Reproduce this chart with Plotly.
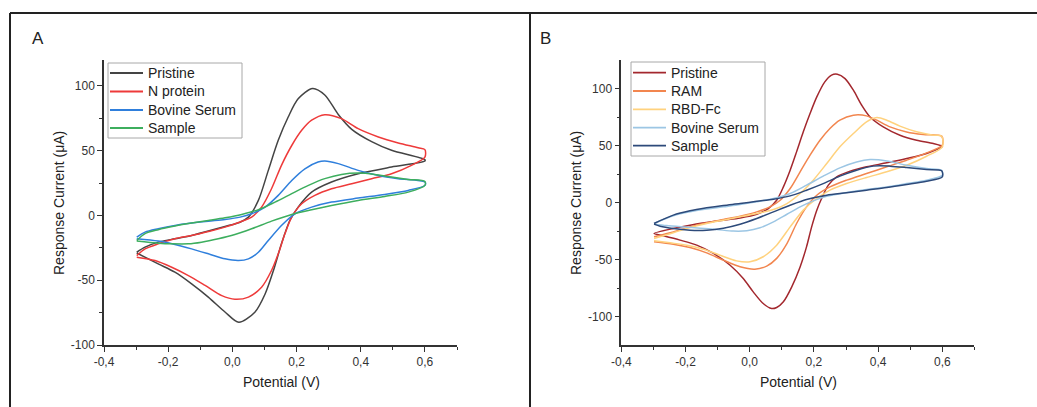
import plotly.graph_objects as go

# ---------------- Panel A data (Potential V, Current uA) ----------------
a_pristine_fwd_v = [-0.298, -0.272, -0.231, -0.179, -0.127, -0.075, -0.023, 0.024, 0.050, 0.081, 0.112, 0.143, 0.174, 0.205, 0.250, 0.288, 0.330, 0.372, 0.434, 0.496, 0.600]
a_pristine_fwd_i = [-28.4, -24.5, -20.6, -18.0, -15.5, -12.0, -8.5, -5.2, -1.3, 11.6, 34.8, 58.0, 76.0, 90.0, 98.0, 93.0, 78.0, 66.5, 57.0, 50.3, 43.0]
a_pristine_rev_v = [0.600, 0.496, 0.392, 0.309, 0.247, 0.205, 0.179, 0.153, 0.128, 0.102, 0.070, 0.020, -0.023, -0.075, -0.127, -0.179, -0.231, -0.298]
a_pristine_rev_i = [42.0, 37.4, 32.2, 25.8, 18.0, 6.4, -3.9, -21.9, -42.5, -60.6, -74.7, -82.5, -74.5, -63.0, -52.8, -43.8, -37.4, -29.0]

a_nprot_fwd_v = [-0.298, -0.272, -0.231, -0.179, -0.127, -0.075, -0.023, 0.024, 0.060, 0.091, 0.122, 0.153, 0.185, 0.216, 0.247, 0.288, 0.340, 0.392, 0.455, 0.517, 0.579, 0.600]
a_nprot_fwd_i = [-31.0, -25.8, -21.9, -18.0, -15.5, -12.4, -9.0, -5.0, -1.3, 6.4, 20.6, 38.7, 54.0, 65.7, 73.5, 77.8, 74.7, 67.0, 60.6, 56.0, 52.3, 50.8]
a_nprot_rev_v = [0.600, 0.558, 0.496, 0.434, 0.372, 0.309, 0.257, 0.216, 0.185, 0.164, 0.143, 0.122, 0.091, 0.050, 0.008, -0.033, -0.085, -0.137, -0.189, -0.241, -0.298]
a_nprot_rev_i = [45.0, 38.7, 32.2, 28.4, 24.5, 20.6, 15.5, 9.0, -1.3, -14.0, -29.6, -42.5, -55.4, -63.0, -64.7, -61.9, -54.0, -46.4, -40.0, -34.8, -32.2]

a_bovine_fwd_v = [-0.298, -0.272, -0.231, -0.179, -0.127, -0.075, -0.023, 0.024, 0.060, 0.102, 0.143, 0.185, 0.226, 0.267, 0.288, 0.330, 0.392, 0.455, 0.517, 0.600]
a_bovine_fwd_i = [-16.8, -12.9, -10.3, -7.7, -5.9, -4.4, -3.1, -1.3, 1.3, 6.4, 15.5, 27.0, 36.0, 41.2, 42.0, 40.0, 34.8, 30.9, 28.4, 25.8]
a_bovine_rev_v = [0.600, 0.548, 0.475, 0.392, 0.309, 0.247, 0.195, 0.153, 0.112, 0.081, 0.050, 0.019, -0.023, -0.075, -0.127, -0.179, -0.231, -0.298]
a_bovine_rev_i = [23.2, 19.3, 16.2, 13.4, 10.3, 6.4, 1.3, -7.7, -19.3, -28.4, -33.5, -34.8, -33.5, -29.6, -25.8, -22.4, -19.8, -18.0]

a_sample_fwd_v = [-0.298, -0.272, -0.231, -0.179, -0.127, -0.075, -0.023, 0.029, 0.081, 0.133, 0.185, 0.237, 0.288, 0.340, 0.392, 0.444, 0.496, 0.548, 0.600]
a_sample_fwd_i = [-19.3, -14.0, -11.0, -8.2, -5.9, -3.9, -1.8, 0.8, 4.4, 10.3, 16.8, 23.2, 28.4, 31.7, 32.7, 31.7, 29.6, 27.8, 26.3]
a_sample_rev_v = [0.600, 0.548, 0.475, 0.392, 0.309, 0.247, 0.185, 0.122, 0.060, 0.008, -0.044, -0.096, -0.137, -0.189, -0.231, -0.298]
a_sample_rev_i = [23.2, 18.0, 14.7, 11.6, 7.7, 4.4, 0.8, -4.4, -10.3, -14.7, -18.0, -20.6, -21.9, -21.9, -21.4, -19.8]

# ---------------- Panel B data ----------------
b_pristine_fwd_v = [-0.298, -0.238, -0.186, -0.134, -0.082, -0.030, 0.022, 0.058, 0.084, 0.105, 0.126, 0.146, 0.167, 0.188, 0.209, 0.234, 0.255, 0.273, 0.297, 0.323, 0.349, 0.375, 0.416, 0.468, 0.520, 0.572, 0.600]
b_pristine_fwd_i = [-27.2, -22.8, -19.9, -17.6, -15.5, -13.5, -10.3, -5.3, 2.0, 13.7, 28.3, 44.4, 62.0, 78.0, 92.6, 105.8, 111.7, 112.5, 108.7, 98.5, 85.3, 75.0, 66.3, 59.0, 54.6, 51.7, 49.4]
b_pristine_rev_v = [0.600, 0.551, 0.489, 0.427, 0.364, 0.313, 0.271, 0.245, 0.224, 0.209, 0.193, 0.177, 0.157, 0.131, 0.105, 0.084, 0.068, 0.042, 0.011, -0.020, -0.061, -0.113, -0.165, -0.217, -0.269, -0.298]
b_pristine_rev_i = [49.0, 43.0, 38.6, 34.8, 31.3, 27.5, 22.5, 15.2, 3.5, -6.8, -21.4, -38.9, -56.5, -74.0, -87.1, -92.1, -93.0, -88.6, -78.4, -66.7, -55.0, -44.7, -37.4, -33.0, -29.2, -27.2]

b_ram_fwd_v = [-0.298, -0.238, -0.186, -0.134, -0.082, -0.030, 0.022, 0.063, 0.095, 0.126, 0.157, 0.188, 0.219, 0.250, 0.281, 0.323, 0.364, 0.396, 0.437, 0.489, 0.541, 0.598]
b_ram_fwd_i = [-30.0, -25.8, -21.4, -17.8, -14.9, -12.0, -8.2, -3.8, 2.0, 12.3, 26.9, 41.5, 54.6, 64.9, 72.2, 76.6, 76.0, 72.2, 66.3, 61.9, 59.6, 58.2]
b_ram_rev_v = [0.600, 0.551, 0.489, 0.427, 0.364, 0.302, 0.250, 0.209, 0.177, 0.146, 0.116, 0.084, 0.053, 0.016, -0.030, -0.082, -0.134, -0.186, -0.238, -0.298]
b_ram_rev_i = [50.3, 43.5, 37.1, 31.3, 25.4, 19.6, 13.7, 6.4, -3.8, -18.4, -36.0, -49.0, -55.8, -58.5, -56.4, -50.6, -44.2, -39.5, -36.6, -34.5]

b_rbd_fwd_v = [-0.298, -0.238, -0.186, -0.134, -0.082, -0.030, 0.022, 0.074, 0.116, 0.157, 0.198, 0.240, 0.281, 0.323, 0.364, 0.396, 0.427, 0.468, 0.520, 0.572, 0.598]
b_rbd_fwd_i = [-31.6, -26.6, -21.9, -18.4, -15.5, -12.6, -9.6, -6.2, -0.9, 7.9, 19.6, 34.2, 48.8, 60.5, 70.7, 74.5, 72.2, 67.0, 62.0, 59.0, 58.2]
b_rbd_rev_v = [0.600, 0.551, 0.489, 0.427, 0.364, 0.302, 0.250, 0.209, 0.167, 0.126, 0.084, 0.042, 0.001, -0.041, -0.093, -0.144, -0.196, -0.248, -0.298]
b_rbd_rev_i = [48.8, 40.6, 32.7, 26.9, 21.9, 16.6, 10.8, 3.5, -6.7, -21.4, -37.4, -47.6, -52.0, -51.2, -46.2, -41.0, -37.4, -35.4, -33.6]

b_bovine_fwd_v = [-0.298, -0.238, -0.186, -0.134, -0.082, -0.030, 0.022, 0.074, 0.126, 0.177, 0.229, 0.281, 0.333, 0.375, 0.427, 0.489, 0.551, 0.598]
b_bovine_fwd_i = [-18.4, -11.7, -8.2, -5.8, -3.8, -1.8, 0.6, 3.5, 7.9, 15.2, 23.1, 30.4, 35.6, 37.7, 36.5, 32.7, 29.8, 28.3]
b_bovine_rev_v = [0.600, 0.551, 0.489, 0.427, 0.364, 0.302, 0.240, 0.198, 0.157, 0.116, 0.074, 0.032, -0.009, -0.051, -0.102, -0.154, -0.206, -0.259, -0.298]
b_bovine_rev_i = [23.9, 19.6, 16.6, 13.7, 11.4, 8.7, 5.5, 1.4, -3.8, -10.3, -17.0, -22.2, -24.8, -25.1, -23.7, -22.5, -21.4, -20.2, -19.0]

b_sample_fwd_v = [-0.298, -0.238, -0.186, -0.134, -0.082, -0.030, 0.022, 0.074, 0.126, 0.177, 0.229, 0.281, 0.333, 0.385, 0.437, 0.489, 0.551, 0.598]
b_sample_fwd_i = [-18.4, -11.1, -7.3, -4.7, -2.6, -0.9, 1.1, 2.9, 5.8, 10.8, 16.6, 23.1, 28.3, 31.9, 31.9, 30.7, 28.9, 27.8]
b_sample_rev_v = [0.600, 0.551, 0.489, 0.427, 0.364, 0.302, 0.240, 0.177, 0.126, 0.074, 0.022, -0.030, -0.082, -0.134, -0.186, -0.238, -0.279, -0.298]
b_sample_rev_i = [22.5, 18.7, 15.8, 13.1, 10.8, 8.5, 6.4, 2.6, -2.4, -8.2, -14.0, -19.0, -22.5, -24.3, -24.3, -22.8, -20.8, -19.0]

# ---------------- Labels / ticks ----------------
a_names = ["Pristine", "N protein", "Bovine Serum", "Sample"]
b_names = ["Pristine", "RAM", "RBD-Fc", "Bovine Serum", "Sample"]
a_colors = ["#444444", "#EE3A3A", "#2F7FDC", "#3DAE5E"]
b_colors = ["#A3282E", "#F2864F", "#FFD27E", "#9CC6E4", "#2D4A7A"]

x_tickvals = [-0.4, -0.2, 0.0, 0.2, 0.4, 0.6]
x_ticktext = ["-0,4", "-0,2", "0,0", "0,2", "0,4", "0,6"]
x_minor = [-0.3, -0.1, 0.1, 0.3, 0.5, 0.7]
a_y_tickvals = [-100, -50, 0, 50, 100]
a_y_ticktext = ["-100", "-50", "0", "50", "100"]
a_y_minor = [-75, -25, 25, 75]
b_y_tickvals = [-100, -50, 0, 50, 100]
b_y_ticktext = ["-100", "-50", "0", "50", "100"]
b_y_minor = [-75, -25, 25, 75]

x_title = "Potential (V)"
y_title = "Response Current (μA)"

a_curves = [
    (a_pristine_fwd_v + a_pristine_rev_v, a_pristine_fwd_i + a_pristine_rev_i),
    (a_nprot_fwd_v + a_nprot_rev_v, a_nprot_fwd_i + a_nprot_rev_i),
    (a_bovine_fwd_v + a_bovine_rev_v, a_bovine_fwd_i + a_bovine_rev_i),
    (a_sample_fwd_v + a_sample_rev_v, a_sample_fwd_i + a_sample_rev_i),
]
b_curves = [
    (b_pristine_fwd_v + b_pristine_rev_v, b_pristine_fwd_i + b_pristine_rev_i),
    (b_ram_fwd_v + b_ram_rev_v, b_ram_fwd_i + b_ram_rev_i),
    (b_rbd_fwd_v + b_rbd_rev_v, b_rbd_fwd_i + b_rbd_rev_i),
    (b_bovine_fwd_v + b_bovine_rev_v, b_bovine_fwd_i + b_bovine_rev_i),
    (b_sample_fwd_v + b_sample_rev_v, b_sample_fwd_i + b_sample_rev_i),
]

W, H = 1037, 407
FONT = "Liberation Sans, Arial, sans-serif"
TXT = "#222222"

fig = go.Figure()
for (xv, yv), name, col in zip(a_curves, a_names, a_colors):
    fig.add_trace(go.Scatter(x=xv, y=yv, name=name, mode="lines", showlegend=False,
                             line=dict(color=col, width=1.5, shape="spline", smoothing=0.8),
                             xaxis="x", yaxis="y"))
for (xv, yv), name, col in zip(b_curves, b_names, b_colors):
    fig.add_trace(go.Scatter(x=xv, y=yv, name=name, mode="lines", showlegend=False,
                             line=dict(color=col, width=1.5, shape="spline", smoothing=0.8),
                             xaxis="x2", yaxis="y2"))

def px_x(p):
    return p / W

def px_y(p):
    return 1 - p / H

axis_common = dict(showline=True, linecolor="#333333", linewidth=1.5, ticks="outside",
                   ticklen=5, tickwidth=1.3, tickcolor="#333333", showgrid=False,
                   zeroline=False, tickfont=dict(family=FONT, size=12, color="#333333"),
                   mirror=False, automargin=False)
minor_common = dict(ticks="outside", ticklen=3, tickwidth=1.2, tickcolor="#333333")

fig.update_layout(
    width=W, height=H, margin=dict(l=0, r=0, t=0, b=0, pad=0), autosize=False,
    paper_bgcolor="white", plot_bgcolor="white",
    font=dict(family=FONT, color=TXT),
    showlegend=False,
    xaxis=dict(domain=[px_x(104), px_x(457)], range=[-0.4, 0.7], anchor="y",
               tickvals=x_tickvals, ticktext=x_ticktext,
               minor=dict(tickvals=x_minor, **minor_common), **axis_common),
    yaxis=dict(domain=[px_y(345), px_y(60)], range=[-100, 120], anchor="x",
               tickvals=a_y_tickvals, ticktext=a_y_ticktext,
               minor=dict(tickvals=a_y_minor, **minor_common), **axis_common),
    xaxis2=dict(domain=[px_x(621.3), px_x(974.4)], range=[-0.4, 0.7], anchor="y2",
                tickvals=x_tickvals, ticktext=x_ticktext,
                minor=dict(tickvals=x_minor, **minor_common), **axis_common),
    yaxis2=dict(domain=[px_y(345), px_y(60)], range=[-125, 125], anchor="x2",
                tickvals=b_y_tickvals, ticktext=b_y_ticktext,
                minor=dict(tickvals=b_y_minor, **minor_common), **axis_common),
)

annots = [
    dict(text="A", x=px_x(37.5), y=px_y(39), font=dict(size=17)),
    dict(text="B", x=px_x(545), y=px_y(39), font=dict(size=17)),
    dict(text=y_title, x=px_x(59), y=px_y(203), textangle=-90, font=dict(size=14)),
    dict(text=y_title, x=px_x(576), y=px_y(203), textangle=-90, font=dict(size=14)),
    dict(text=x_title, x=px_x(281), y=px_y(382), font=dict(size=14)),
    dict(text=x_title, x=px_x(798), y=px_y(382), font=dict(size=14)),
]
for a in annots:
    fig.add_annotation(xref="paper", yref="paper", showarrow=False,
                       xanchor="center", yanchor="middle",
                       font_family=FONT, font_color=TXT, **a)

# ---- legends (box, line samples and labels), one per panel ----
def add_legend(box, names, colors, rows, line_x0, line_x1, text_x):
    x0, y0, x1, y1 = box
    fig.add_shape(type="rect", xref="paper", yref="paper",
                  x0=px_x(x0), x1=px_x(x1), y0=px_y(y1), y1=px_y(y0),
                  line=dict(color="#A8A8A8", width=1), fillcolor="white", layer="above")
    for name, col, ry in zip(names, colors, rows):
        fig.add_shape(type="line", xref="paper", yref="paper",
                      x0=px_x(line_x0), x1=px_x(line_x1), y0=px_y(ry), y1=px_y(ry),
                      line=dict(color=col, width=1.8), layer="above")
        fig.add_annotation(xref="paper", yref="paper", showarrow=False,
                           x=px_x(text_x), y=px_y(ry), xanchor="left", yanchor="middle",
                           text=name, font=dict(family=FONT, size=14, color=TXT))

add_legend((108, 63, 242, 138), a_names, a_colors, [73, 91.5, 110, 128], 110, 143, 146)
add_legend((631, 62, 765, 156), b_names, b_colors, [72.7, 91, 109.3, 127.7, 145.7], 633, 666, 669)

frame = dict(color="#222222", width=2)
fig.add_shape(type="line", xref="paper", yref="paper", x0=px_x(10), x1=1, y0=px_y(13), y1=px_y(13), line=frame)
fig.add_shape(type="line", xref="paper", yref="paper", x0=px_x(10), x1=px_x(10), y0=px_y(13), y1=0, line=frame)
fig.add_shape(type="line", xref="paper", yref="paper", x0=px_x(530), x1=px_x(530), y0=px_y(13), y1=0, line=frame)

fig.write_html("out.html", config={"displayModeBar": False},
               post_script="document.body.style.margin='0';document.body.style.padding='0';document.body.style.overflow='hidden';")
